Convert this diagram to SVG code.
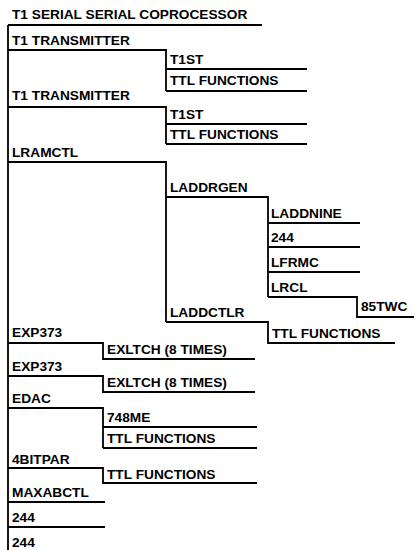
<svg xmlns="http://www.w3.org/2000/svg" width="417" height="550" viewBox="0 0 417 550">
<style>
text{font-family:"Liberation Sans",Arial,sans-serif;font-weight:bold;font-size:13.7px;fill:#000}
.c path{fill:none;stroke:#000;stroke-width:1.8}
</style>
<rect width="417" height="550" fill="#fff"/>
<g class="c" id="connectors">
<path d="M8 25H262M8 25V550"/>
<path d="M8 50H166V91M166 69H307M166 91H307"/>
<path d="M8 107H166V144M166 124H307M166 144H307"/>
<path d="M8 162H166V322"/>
<path d="M166 197H268V297M268 223H360M268 247H360M268 272H360M268 297H357V317H414"/>
<path d="M166 322H268V343H395"/>
<path d="M8 343H103V359H255"/>
<path d="M8 376H103V392H255"/>
<path d="M8 408H103V448M103 427H257M103 448H257"/>
<path d="M8 468H103V483H257"/>
<path d="M8 502H105M8 527H105"/>
</g>
<g id="n-root"><text x="12" y="19">T1 SERIAL SERIAL COPROCESSOR</text></g>
<g id="n-t1tx1"><text x="12" y="45">T1 TRANSMITTER</text></g>
<g id="n-t1st1"><text x="170" y="64">T1ST</text></g>
<g id="n-ttl1"><text x="170" y="85">TTL FUNCTIONS</text></g>
<g id="n-t1tx2"><text x="12" y="100">T1 TRANSMITTER</text></g>
<g id="n-t1st2"><text x="170" y="119">T1ST</text></g>
<g id="n-ttl2"><text x="170" y="139">TTL FUNCTIONS</text></g>
<g id="n-lramctl"><text x="12" y="157">LRAMCTL</text></g>
<g id="n-laddrgen"><text x="170" y="192">LADDRGEN</text></g>
<g id="n-laddnine"><text x="271" y="218">LADDNINE</text></g>
<g id="n-244a"><text x="271" y="242">244</text></g>
<g id="n-lfrmc"><text x="271" y="267">LFRMC</text></g>
<g id="n-lrcl"><text x="271" y="292">LRCL</text></g>
<g id="n-85twc"><text x="361" y="311">85TWC</text></g>
<g id="n-laddctlr"><text x="170" y="317">LADDCTLR</text></g>
<g id="n-ttl3"><text x="272" y="338">TTL FUNCTIONS</text></g>
<g id="n-exp1"><text x="12" y="337">EXP373</text></g>
<g id="n-exl1"><text x="107" y="354">EXLTCH (8 TIMES)</text></g>
<g id="n-exp2"><text x="12" y="371">EXP373</text></g>
<g id="n-exl2"><text x="107" y="387">EXLTCH (8 TIMES)</text></g>
<g id="n-edac"><text x="12" y="403">EDAC</text></g>
<g id="n-748me"><text x="107" y="422">748ME</text></g>
<g id="n-ttl4"><text x="107" y="443">TTL FUNCTIONS</text></g>
<g id="n-4bitpar"><text x="12" y="464">4BITPAR</text></g>
<g id="n-ttl5"><text x="107" y="479">TTL FUNCTIONS</text></g>
<g id="n-maxabctl"><text x="12" y="497">MAXABCTL</text></g>
<g id="n-244b"><text x="12" y="522">244</text></g>
<g id="n-244c"><text x="12" y="547">244</text></g>
</svg>
